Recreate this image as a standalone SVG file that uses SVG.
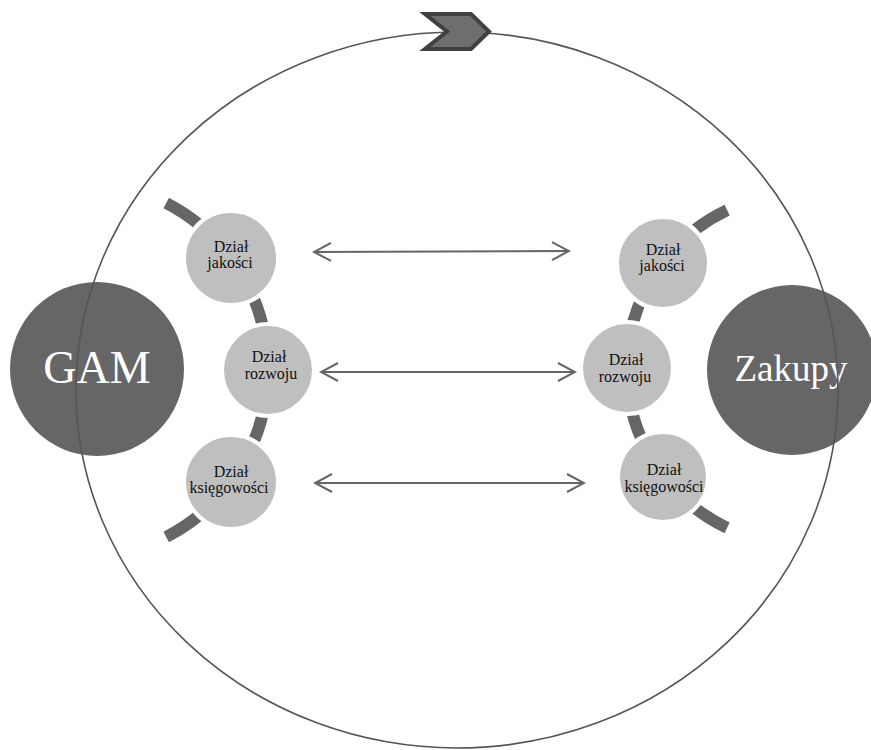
<svg xmlns="http://www.w3.org/2000/svg" width="871" height="750" viewBox="0 0 871 750">
<style>
text{font-family:"Liberation Serif","Times New Roman",serif}
.lbl{font-size:16px;fill:#111;text-anchor:middle}
.big{fill:#fff;text-anchor:middle}
.sm{fill:#bfbfbf;stroke:#fff;stroke-width:4}
.main{fill:#666}
.arc{fill:none;stroke:#666;stroke-width:12;stroke-linecap:butt}
.arr{fill:none;stroke:#666;stroke-width:2}
</style>
<defs>
<marker id="ah" viewBox="0 0 20 20" refX="18" refY="10" markerWidth="20" markerHeight="20" markerUnits="userSpaceOnUse" orient="auto-start-reverse">
<path d="M1,1 L18,10 L1,19" fill="none" stroke="#666" stroke-width="2"/>
</marker>
</defs>
<rect width="871" height="750" fill="#fff"/>
<g id="gam"><circle class="main" cx="97" cy="369" r="87"/><text class="big" x="97" y="383" font-size="46" font-family="Liberation Serif, serif">GAM</text></g>
<g id="zakupy"><circle class="main" cx="792" cy="370" r="85"/><text class="big" x="791" y="381" font-size="37" font-family="Liberation Serif, serif">Zakupy</text></g>
<g id="cycle">
<ellipse cx="457" cy="390" rx="381" ry="358" fill="none" stroke="#555" stroke-width="1.6"/>
<polygon points="425,14 471,14 489,31.5 471,49 425,49 447,31.5" fill="#6e6e6e" stroke="#404040" stroke-width="4" stroke-linejoin="miter"/>
</g>
<g id="arcs">
<path class="arc" d="M166.2,203 A188,188 0 0 1 166.2,537"/>
<path class="arc" d="M727.1,210.2 A176,176 0 0 0 727.1,527.8"/>
</g>
<g id="connectors">
<line class="arr" x1="314" y1="252" x2="569" y2="251" marker-start="url(#ah)" marker-end="url(#ah)"/>
<line class="arr" x1="321" y1="372" x2="575" y2="372" marker-start="url(#ah)" marker-end="url(#ah)"/>
<line class="arr" x1="315" y1="483" x2="584" y2="483" marker-start="url(#ah)" marker-end="url(#ah)"/>
</g>
<g id="l-jakosci"><circle class="sm" cx="231" cy="258" r="47"/><text class="lbl" x="231" y="252">Dział</text><text class="lbl" x="230" y="268">jakości</text></g>
<g id="l-rozwoju"><circle class="sm" cx="268" cy="370" r="46"/><text class="lbl" x="269" y="362">Dział</text><text class="lbl" x="271" y="379">rozwoju</text></g>
<g id="l-ksiegowosci"><circle class="sm" cx="231" cy="482" r="47"/><text class="lbl" x="231" y="477">Dział</text><text class="lbl" x="229" y="493">księgowości</text></g>
<g id="r-jakosci"><circle class="sm" cx="663" cy="263" r="46"/><text class="lbl" x="663" y="255">Dział</text><text class="lbl" x="662" y="271">jakości</text></g>
<g id="r-rozwoju"><circle class="sm" cx="627" cy="368" r="46"/><text class="lbl" x="626" y="365">Dział</text><text class="lbl" x="625" y="382">rozwoju</text></g>
<g id="r-ksiegowosci"><circle class="sm" cx="663" cy="477" r="45"/><text class="lbl" x="664" y="475">Dział</text><text class="lbl" x="664" y="492">księgowości</text></g>
</svg>
